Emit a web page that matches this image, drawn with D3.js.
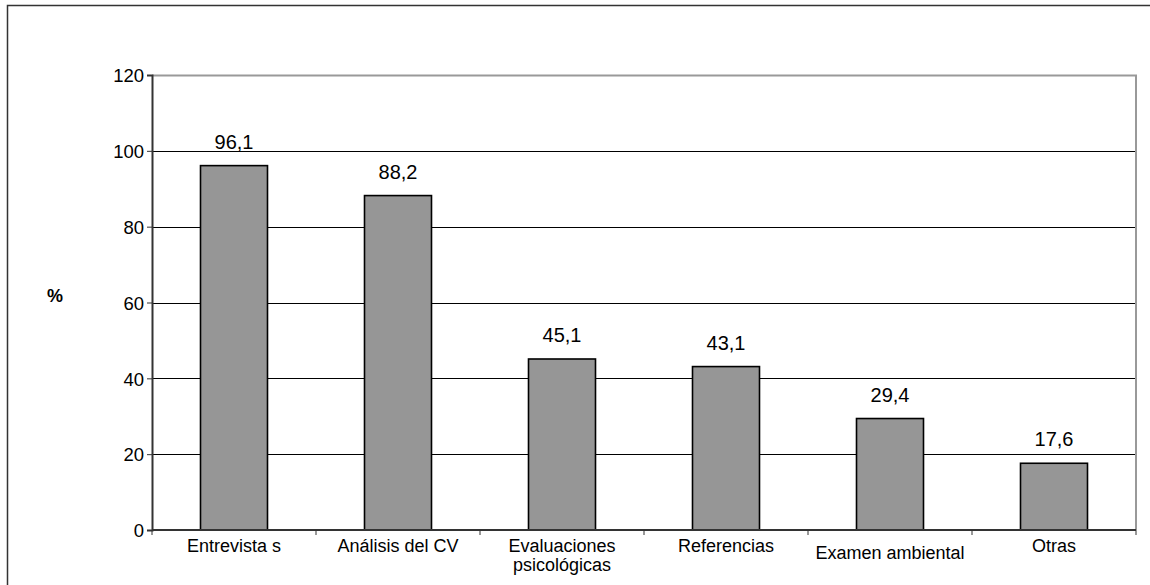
<!DOCTYPE html>
<html>
<head>
<meta charset="utf-8">
<script src="https://cdn.jsdelivr.net/npm/d3@7"></script>
<style>
  html, body { margin: 0; padding: 0; background: #fff; }
  svg { display: block; }
  text { font-family: Arial, "Liberation Sans", sans-serif; fill: #000; }
</style>
</head>
<body>
<svg id="chart" width="1150" height="585"></svg>
<script>
// Métodos de selección utilizados (%)
const categories = ["Entrevista s", "Análisis del CV", "Evaluaciones psicológicas", "Referencias", "Examen ambiental", "Otras"];
const values = [96.1, 88.2, 45.1, 43.1, 29.4, 17.6];
const valueLabels = ["96,1", "88,2", "45,1", "43,1", "29,4", "17,6"];
const yTicks = [0, 20, 40, 60, 80, 100, 120];
const yTitle = "%";

const svg = d3.select("#chart");
const W = 1150, H = 585;
const plot = { left: 152, right: 1136, top: 75, bottom: 530 };

// outer frame
svg.append("rect")
  .attr("x", 7.5).attr("y", 5.5)
  .attr("width", W + 20).attr("height", H + 20)
  .attr("fill", "#fff").attr("stroke", "#333").attr("stroke-width", 1.5);

const x = d3.scaleBand().domain(categories).range([plot.left, plot.right]).paddingInner(0).paddingOuter(0);
const y = d3.scaleLinear().domain([0, 120]).range([plot.bottom, plot.top]);

// horizontal gridlines
svg.append("g").selectAll("line")
  .data(yTicks.filter(t => t > 0 && t < 120))
  .join("line")
  .attr("x1", plot.left).attr("x2", plot.right)
  .attr("y1", d => Math.round(y(d)) + 0.5).attr("y2", d => Math.round(y(d)) + 0.5)
  .attr("stroke", "#000").attr("stroke-width", 1);

// plot area top and right border
svg.append("path")
  .attr("d", `M${plot.left},${y(120) + 0.5}H${plot.right}V${plot.bottom}`)
  .attr("fill", "none").attr("stroke", "#999").attr("stroke-width", 2);

// bars
const barW = 67;
svg.append("g").selectAll("rect")
  .data(values)
  .join("rect")
  .attr("x", (d, i) => x(categories[i]) + x.bandwidth() / 2 - barW / 2)
  .attr("y", d => y(d))
  .attr("width", barW)
  .attr("height", d => y(0) - y(d))
  .attr("fill", "#969696")
  .attr("stroke", "#000")
  .attr("stroke-width", 1.6);

// value labels
svg.append("g").selectAll("text")
  .data(values)
  .join("text")
  .attr("x", (d, i) => x(categories[i]) + x.bandwidth() / 2)
  .attr("y", d => y(d) - 17)
  .attr("text-anchor", "middle")
  .style("font-size", "20px")
  .text((d, i) => valueLabels[i]);

// y axis
const yAxis = d3.axisLeft(y).tickValues(yTicks).tickSize(5).tickPadding(3).tickFormat(d3.format("d"));
const gy = svg.append("g").attr("transform", `translate(${plot.left},0)`).call(yAxis);
gy.select(".domain").attr("stroke", "#333").attr("stroke-width", 2);
gy.selectAll(".tick line").attr("stroke", "#333").attr("stroke-width", 1);
gy.selectAll(".tick text").style("font-size", "18.5px").style("font-family", "Arial, 'Liberation Sans', sans-serif").attr("fill", "#000").attr("dy", "0.36em");

// x axis baseline with tick marks at category boundaries
const bounds = categories.map(c => x(c)).concat([plot.right]);
svg.append("line")
  .attr("x1", plot.left).attr("x2", plot.right)
  .attr("y1", plot.bottom).attr("y2", plot.bottom)
  .attr("stroke", "#333").attr("stroke-width", 2);
svg.append("g").selectAll("line")
  .data(bounds)
  .join("line")
  .attr("x1", d => d).attr("x2", d => d)
  .attr("y1", plot.bottom).attr("y2", plot.bottom + 5)
  .attr("stroke", "#333").attr("stroke-width", 1);

// category labels (long ones wrap onto two lines)
const lineDrop = { "Examen ambiental": 7 };
const xl = svg.append("g").selectAll("text")
  .data(categories)
  .join("text")
  .attr("text-anchor", "middle")
  .attr("transform", d => `translate(${x(d) + x.bandwidth() / 2},${552 + (lineDrop[d] || 0)})`)
  .style("font-size", "18px");
xl.each(function (d) {
  const lines = d === "Evaluaciones psicológicas" ? ["Evaluaciones", "psicológicas"] : [d];
  d3.select(this).selectAll("tspan")
    .data(lines)
    .join("tspan")
    .attr("x", 0)
    .attr("y", (l, i) => i * 19)
    .text(l => l);
});

// y axis title
svg.append("text")
  .attr("x", 55).attr("y", 302)
  .attr("text-anchor", "middle")
  .style("font-size", "18px")
  .style("font-weight", "bold")
  .text(yTitle);
</script>
</body>
</html>
